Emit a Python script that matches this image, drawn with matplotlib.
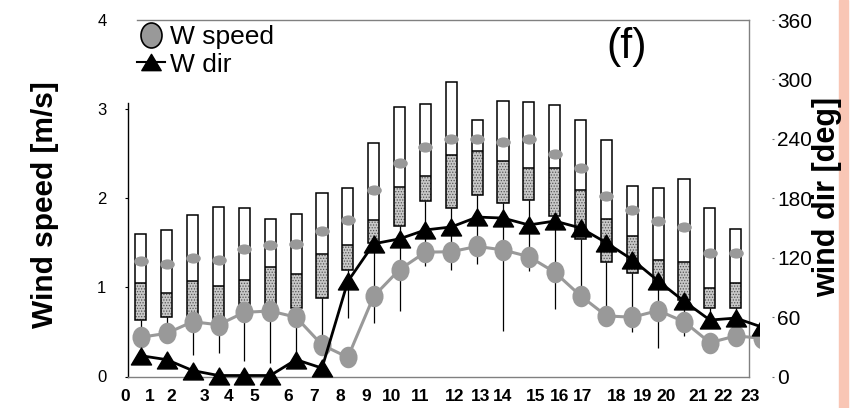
import numpy as np
import matplotlib.pyplot as plt
from matplotlib.lines import Line2D
from matplotlib.patches import Rectangle
from matplotlib.path import Path
from matplotlib.transforms import Affine2D, offset_copy

plt.rcParams['font.family'] = ['Liberation Sans', 'DejaVu Sans']
plt.rcParams['hatch.linewidth'] = 0.6

# hourly wind speed distribution (m/s): whisker low, box bottom, median, box top, dot
hours = np.arange(24)
box_lo = [0.45, 0.50, 0.24, 0.26, 0.17, 0.155, 0.22, 0.36, 0.655, 0.60, 0.73, 1.235,
          1.19, 1.265, 0.515, 1.18, 0.755, 0.93, 0.785, 0.495, 0.315, 0.45, 0.60, 0.60]
box_q1 = [0.635, 0.67, 0.65, 0.65, 0.68, 0.68, 0.77, 0.885, 1.20, 1.50, 1.685, 1.97,
          1.89, 2.04, 1.945, 1.98, 1.80, 1.54, 1.28, 1.165, 1.00, 0.86, 0.765, 0.765]
box_med = [1.05, 0.94, 1.07, 1.01, 1.085, 1.23, 1.15, 1.37, 1.48, 1.76, 2.125, 2.25,
           2.49, 2.525, 2.415, 2.34, 2.345, 2.095, 1.77, 1.58, 1.31, 1.28, 0.99, 1.045]
box_hi = [1.60, 1.64, 1.81, 1.90, 1.885, 1.77, 1.825, 2.06, 2.115, 2.62, 3.025, 3.06,
          3.30, 2.88, 3.095, 3.085, 3.045, 2.875, 2.655, 2.135, 2.115, 2.22, 1.89, 1.657]
box_dot = [1.30, 1.26, 1.335, 1.31, 1.43, 1.48, 1.485, 1.635, 1.76, 2.095, 2.39, 2.58,
           2.665, 2.665, 2.63, 2.67, 2.50, 2.345, 2.03, 1.87, 1.745, 1.675, 1.385, 1.385]

# W station, hours 0..24 (24 = midnight of the next day)
line_hours = np.arange(25)
w_speed = [0.44, 0.485, 0.615, 0.58, 0.72, 0.735, 0.665, 0.355, 0.215, 0.90, 1.20, 1.395,
           1.40, 1.46, 1.42, 1.345, 1.17, 0.905, 0.68, 0.665, 0.74, 0.615, 0.38, 0.455, 0.43]
w_dir = [21, 17, 6, 1, 1, 1, 17, 8.5, 96, 134, 139, 148, 151, 161, 160, 153, 157, 150,
         135, 118, 96.5, 76, 57, 59, 50]

hour_labels = [str(h) for h in hours]
speed_ticks = [0, 1, 2, 3, 4]
dir_ticks = [0, 60, 120, 180, 240, 300, 360]


def ellipse(sx, sy):
    c = Path.unit_circle()
    return c.transformed(Affine2D().scale(sx, sy))


tri = Path([(0, 0.42), (-0.5, -0.42), (0.5, -0.42), (0, 0.42)],
           [Path.MOVETO, Path.LINETO, Path.LINETO, Path.CLOSEPOLY])
big_o = ellipse(0.84, 1.0)
small_o = ellipse(1.0, 0.7)

fig = plt.figure(figsize=(8.54, 4.08), dpi=100)
ax = fig.add_axes([128 / 854, 31.5 / 408, 620.7 / 854, 356.5 / 408])
ax2 = ax.twinx()

# box plot pieces
bw = 0.43
ax.vlines(hours, box_lo, box_q1, color='black', lw=0.9, zorder=2)
ax.bar(hours, np.subtract(box_med, box_q1), bottom=box_q1, width=bw, color='#c8c8c8',
       edgecolor='#555555', hatch='......', lw=0, zorder=3)
ax.bar(hours, np.subtract(box_hi, box_med), bottom=box_med, width=bw, color='white',
       lw=0, zorder=3)
ax.bar(hours, np.subtract(box_hi, box_q1), bottom=box_q1, width=bw, fill=False,
       edgecolor='black', lw=1.1, zorder=3.2)
ax.hlines(box_med, hours - bw / 2, hours + bw / 2, color='black', lw=1.1, zorder=3.3)
ax.plot(hours, box_dot, ls='none', marker=small_o, ms=10.5, color='#999999',
        mec='none', zorder=3.5)

# clip the series just past the last hour (hour 24 sits on the frame edge)
clip = Rectangle((-0.1, -0.2), (23.9 + 0.5) / 24 + 0.1, 1.4, transform=ax.transAxes,
                 visible=False)
fig.add_artist(clip)

gl, = ax.plot(line_hours, w_speed, color='#999999', lw=2.2, marker=big_o, ms=15.5,
              mec='none', zorder=4, clip_on=True)
gl.set_clip_path(clip)
bl, = ax2.plot(line_hours, w_dir, color='black', lw=2.0, marker=tri, ms=14.5,
               zorder=5, clip_on=True)
bl.set_clip_path(clip)

ax.set_xlim(-0.5, 23.5)
ax.set_ylim(0, 4)
ax2.set_ylim(0, 360)

# frame
for side in ('top', 'right', 'bottom'):
    ax.spines[side].set_color('#808080')
    ax.spines[side].set_linewidth(1.0)
ax.spines['left'].set_color('black')
ax.spines['left'].set_linewidth(1.0)
ax.spines['left'].set_bounds(0, 3.07)
ax.spines['top'].set_bounds(-0.15, 23.5)
for side in ('top', 'left', 'bottom'):
    ax2.spines[side].set_visible(False)
ax2.spines['right'].set_position(('outward', 17))
ax2.spines['right'].set_color('none')

ax.set_xticks([])
ax.set_yticks(speed_ticks)
ax.set_yticklabels([str(v) for v in speed_ticks], fontsize=12)
ax.tick_params(axis='y', length=2.5, width=0.8, pad=13)
ax.yaxis.get_major_ticks()[-1].tick1line.set_visible(False)

ax2.set_yticks(dir_ticks)
ax2.set_yticklabels([str(v) for v in dir_ticks], fontsize=15)
ax2.tick_params(axis='y', length=1.5, width=0.8, color='#666666', pad=2)

# hour labels sit a little off the category centres
xlabel_at = [-0.62, 0.35, 1.16, 2.44, 3.37, 4.37, 5.69, 6.69, 7.70, 8.70, 9.71, 10.79,
             12.11, 13.15, 14.0, 15.28, 16.2, 17.06, 18.41, 19.38, 20.31, 21.55, 22.5, 23.54]
tr = offset_copy(ax.get_xaxis_transform(), fig=fig, y=-9, units='points')
for xp, lab in zip(xlabel_at, hour_labels):
    ax.text(xp, 0, lab, transform=tr, ha='center', va='top', fontsize=12.5,
            fontweight='bold')

fig.text(45 / 854, 1 - 205 / 408, 'Wind speed [m/s]', rotation=90, ha='center',
         va='center', fontsize=21.5, fontweight='bold')
fig.text(827 / 854, 1 - 197 / 408, 'wind dir [deg]', rotation=90, ha='center',
         va='center', fontsize=22, fontweight='bold')
ax.text(0.804, 0.924, '(f)', transform=ax.transAxes, ha='center', va='center',
        fontsize=31)

handles = [Line2D([], [], ls='none', marker=big_o, ms=18, color='#999999', mec='black',
                  mew=1.2),
           Line2D([], [], color='black', lw=1.5, marker=tri, ms=14)]
ax2.legend(handles, ['W speed', 'W dir'], loc='upper left',
           bbox_to_anchor=(0.0145, 0.985), frameon=False, handlelength=1.05,
           handletextpad=0.2, labelspacing=0.12, borderpad=0, borderaxespad=0,
           prop={'size': 19})

fig.add_artist(Rectangle((839 / 854, 0), 9 / 854, 1, transform=fig.transFigure,
                         color='#F9C6B5', zorder=-1))

fig.savefig('out.png', dpi=100)
